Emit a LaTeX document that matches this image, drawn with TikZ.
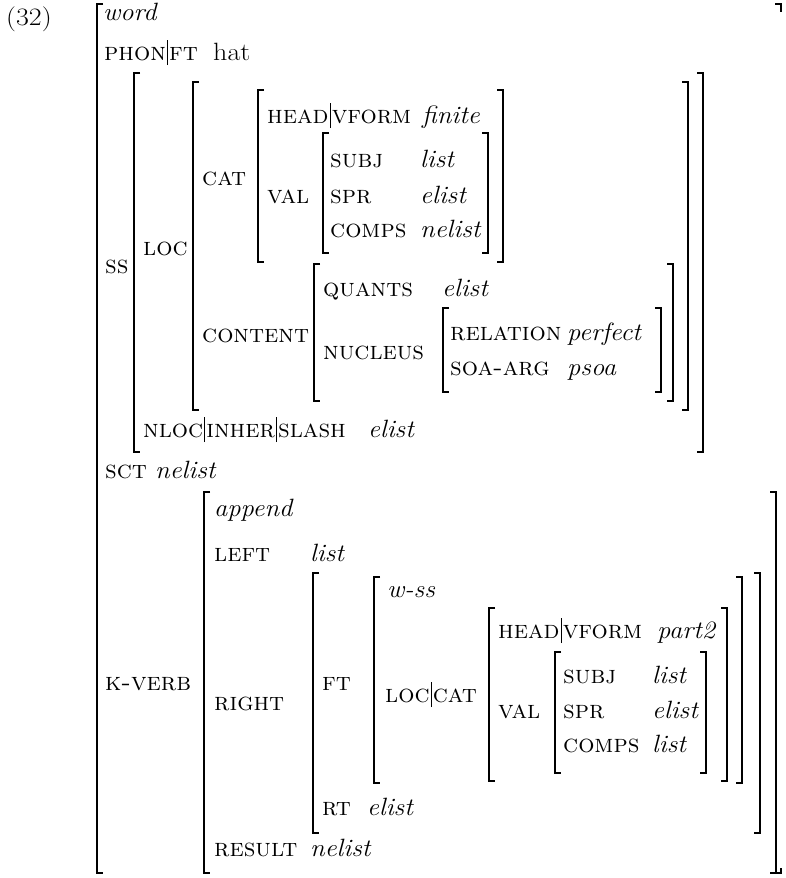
\documentclass[tikz,border=0pt]{standalone}
\usepackage{fontspec}
\usepackage{graphicx}
\newcommand\labfont{\fontsize{25.5}{31}\selectfont\scshape}
\newcommand\valfont{\fontsize{25}{30}\selectfont\itshape}
\newcommand\upfont{\fontsize{25}{30}\selectfont}
\newcommand\widen[1]{\scalebox{1.06}[1]{#1}}
\newcommand\pbar{\kern1.2pt\rule[-5pt]{0.8pt}{25pt}\kern1.2pt}
\tikzset{
  brk/.style={line width=1.5pt},
  lab/.style={anchor=base west, inner sep=0pt, font=\labfont},
  val/.style={anchor=base west, inner sep=0pt, font=\valfont},
  upr/.style={anchor=base west, inner sep=0pt, font=\upfont}
}
% left x, right x, top y, bottom y
\newcommand\avmbr[4]{%
  \draw[brk] (#1+6,#3) -- (#1,#3) -- (#1,#4) -- (#1+6,#4);
  \draw[brk] (#2-6,#3) -- (#2,#3) -- (#2,#4) -- (#2-6,#4);}
\begin{document}
\begin{tikzpicture}[x=1pt,y=-1pt]
\useasboundingbox (0,0) rectangle (785,878);
% number
\node[upr] (num) at (6,25) {\scalebox{1.12}[1]{(32)}};
% outer bracket
\draw[brk] (103,4) -- (97,4) -- (97,873) -- (103,873);
\draw[brk] (775,4) -- (781,4) -- (781,12);
\draw[brk] (781,868) -- (781,873) -- (776,873);
\node[val] (word) at (103,20) {\widen{word}};
\node[lab] (phon) at (104,60) {phon\pbar ft};
\node[upr] (hat) at (213,60) {\scalebox{1.12}[1]{hat}};
% SS
\node[lab] (ss) at (105,273) {ss};
\avmbr{134}{703}{73}{452}
\node[lab] (loc) at (143,255) {loc};
\avmbr{193}{688}{82}{410}
\node[lab] (cat) at (202,185) {cat};
\avmbr{258}{503}{90}{262}
\node[lab] (head1) at (267,123) {head\pbar vform};
\node[val] (finite) at (422,123) {\widen{finite}};
\node[lab] (val1) at (267,203) {val};
\avmbr{323}{488}{133}{253}
\node[lab] (subj1) at (330,167) {subj};
\node[val] (subjv1) at (420,167) {\widen{list}};
\node[lab] (spr1) at (330,203) {spr};
\node[val] (sprv1) at (420,203) {\widen{elist}};
\node[lab] (comps1) at (330,237) {comps};
\node[val] (compsv1) at (420,237) {\widen{nelist}};
\node[lab] (content) at (202,342) {content};
\avmbr{314}{673}{264}{401}
\node[lab] (quants) at (323,296) {quants};
\node[val] (quantsv) at (442,296) {\widen{elist}};
\node[lab] (nucleus) at (323,359) {nucleus};
\avmbr{443}{661}{308}{392}
\node[lab] (relation) at (450,340) {relation};
\node[val] (relationv) at (567,340) {\widen{perfect}};
\node[lab] (soaarg) at (450,375) {soa-arg};
\node[val] (soaargv) at (567,375) {\widen{psoa}};
\node[lab] (nloc) at (143,437) {nloc\pbar inher\pbar slash};
\node[val] (nlocv) at (368,437) {\widen{elist}};
% SCT
\node[lab] (sct) at (105,478) {sct};
\node[val] (sctv) at (155,478) {\widen{nelist}};
% K-VERB
\node[lab] (kverb) at (105,690) {k-verb};
\avmbr{204}{776}{492}{873}
\node[val] (append) at (214,516) {\widen{append}};
\node[lab] (left) at (214,561) {left};
\node[val] (leftv) at (310,561) {\widen{list}};
\node[lab] (right) at (214,710) {right};
\avmbr{313}{760}{573}{833}
\node[lab] (ft) at (322,690) {ft};
\avmbr{374}{742}{577}{783}
\node[val] (wss) at (387,597) {\widen{w-ss}};
\node[lab] (loccat) at (385,702) {loc\pbar cat};
\avmbr{489}{727}{608}{781}
\node[lab] (head2) at (498,638) {head\pbar vform};
\node[val] (part) at (657,638) {\widen{part2}};
\node[lab] (val2) at (498,718) {val};
\avmbr{555}{706}{652}{773}
\node[lab] (subj2) at (563,683) {subj};
\node[val] (subjv2) at (652,683) {\widen{list}};
\node[lab] (spr2) at (563,718) {spr};
\node[val] (sprv2) at (652,718) {\widen{elist}};
\node[lab] (comps2) at (563,752) {comps};
\node[val] (compsv2) at (652,752) {\widen{list}};
\node[lab] (rt) at (322,815) {rt};
\node[val] (rtv) at (367,815) {\widen{elist}};
\node[lab] (result) at (214,856) {result};
\node[val] (resultv) at (310,856) {\widen{nelist}};
\end{tikzpicture}
\end{document}
